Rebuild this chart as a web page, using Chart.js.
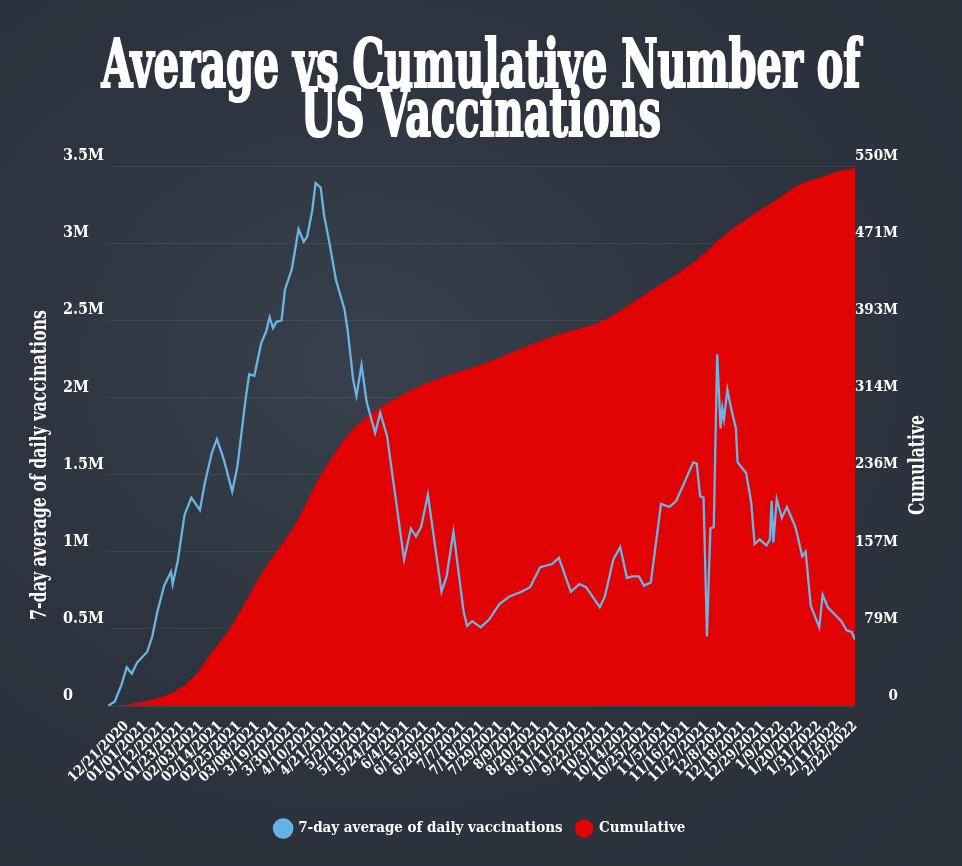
<!DOCTYPE html>
<html>
<head>
<meta charset="utf-8">
<script src="https://cdn.jsdelivr.net/npm/chart.js@4.4.1/dist/chart.umd.min.js"></script>
<style>
  html, body { margin: 0; padding: 0; }
  body { width: 962px; height: 866px; overflow: hidden; background: #2b323d; }
  #wrap {
    position: relative; width: 962px; height: 866px; overflow: hidden;
    background: radial-gradient(ellipse at 38% 42%, #37404c 0%, #2d343f 45%, #29303a 100%);
  }
  #chart { position: absolute; left: 0; top: 0; }
  #title {
    position: absolute; left: -519px; top: 39px; width: 2000px; margin: 0;
    text-align: center; color: #fff; white-space: nowrap;
    font-family: "DejaVu Serif Condensed", "DejaVu Serif", serif;
    font-weight: bold; font-size: 67px; line-height: 49px;
    -webkit-text-stroke: 2.2px #fff;
    transform-origin: 1000px 0;
  }
</style>
</head>
<body>
<div id="wrap">
  <canvas id="chart" width="962" height="866"></canvas>
  <h1 id="title"><span id="t1">Average vs Cumulative Number of</span><br><span>US Vaccinations</span></h1>
</div>
<script>
// tick labels on the date axis (one every 11 days from 12/21/2020)
const tickLabels = ['12/21/2020', '01/01/2021', '01/12/2021', '01/23/2021', '02/03/2021', '02/14/2021',
  '02/25/2021', '03/08/2021', '3/19/2021', '3/30/2021', '4/10/2021', '4/21/2021', '5/2/2021',
  '5/13/2021', '5/24/2021', '6/4/2021', '6/15/2021', '6/26/2021', '7/7/2021', '7/18/2021',
  '7/29/2021', '8/9/2021', '8/20/2021', '8/31/2021', '9/11/2021', '9/22/2021', '10/3/2021',
  '10/14/2021', '10/25/2021', '11/5/2021', '11/16/2021', '11/27/2021', '12/8/2021', '12/18/2021',
  '12/29/2021', '1/9/2022', '1/20/2022', '1/31/2022', '2/11/2022', '2/22/2022'];
const DAYS_PER_TICK = 11;
const FIRST_DAY = -10;
const LAST_DAY = 429;

// 7-day average of daily vaccinations (millions), day = days since 12/21/2020
const avgDays = [-10, -6, -2, 1, 4, 7, 13, 16, 19, 23, 27, 28, 31, 35, 39, 44, 47, 51, 54, 58,
  63, 66, 71, 73, 76, 80, 83, 85, 87, 89, 92, 94, 98, 102, 105, 107, 110, 112, 115, 117,
  120, 124, 129, 131, 134, 136, 139, 142, 147, 150, 154, 160, 164, 168, 171, 174, 178, 186, 189, 193,
  199, 201, 204, 209, 214, 220, 226, 233, 238, 244, 251, 255, 262, 267, 271, 279, 282, 287, 291, 295,
  298, 302, 305, 309, 315, 320, 324, 330, 334, 336, 338, 340, 342, 344, 346, 348, 350, 351, 352, 354,
  356, 359, 360, 365, 368, 370, 373, 377, 379, 380, 381, 383, 386, 389, 394, 398, 400, 403, 408, 410,
  413, 421, 424, 427, 429];
const avgValues = [0, 0.03, 0.14, 0.25, 0.21, 0.28, 0.35, 0.45, 0.61, 0.78, 0.87, 0.79, 0.94, 1.24, 1.35, 1.27, 1.45, 1.64, 1.73, 1.60,
  1.39, 1.55, 2.00, 2.15, 2.14, 2.35, 2.43, 2.52, 2.45, 2.49, 2.50, 2.70, 2.83, 3.09, 3.01, 3.04, 3.21, 3.39, 3.36, 3.18,
  3.01, 2.76, 2.57, 2.42, 2.12, 2.01, 2.21, 1.97, 1.77, 1.90, 1.75, 1.27, 0.95, 1.15, 1.10, 1.16, 1.37, 0.74, 0.84, 1.13,
  0.61, 0.52, 0.55, 0.51, 0.56, 0.66, 0.71, 0.74, 0.77, 0.90, 0.92, 0.96, 0.74, 0.79, 0.77, 0.64, 0.71, 0.95, 1.03, 0.83,
  0.84, 0.84, 0.78, 0.80, 1.31, 1.29, 1.33, 1.48, 1.58, 1.57, 1.36, 1.35, 0.45, 1.15, 1.16, 2.28, 1.80, 1.93, 1.86, 2.05,
  1.94, 1.80, 1.58, 1.51, 1.32, 1.05, 1.08, 1.04, 1.08, 1.33, 1.06, 1.34, 1.22, 1.29, 1.16, 0.97, 1.00, 0.65, 0.51, 0.72,
  0.64, 0.55, 0.49, 0.48, 0.43];

// cumulative vaccinations (millions)
const cumDays = [-6, 3, 15, 27, 34, 42, 49, 62, 81, 101, 113, 120, 130, 139, 150, 163, 179, 208, 254, 279,
  308, 326, 337, 349, 360, 373, 384, 395, 408, 420, 429];
const cumValues = [0, 2, 6, 13, 20, 33, 50, 80, 137, 188, 229, 249, 274, 290, 304, 317, 330, 347, 378, 391,
  422, 442, 456, 475, 490, 505, 517, 530, 538, 545, 548];

const FONT = '"DejaVu Serif Condensed", "DejaVu Serif", serif';
Chart.defaults.font.family = FONT;
Chart.defaults.color = '#ffffff';

// rotated axis titles, squeezed to the narrow headline face of the original
function drawVerticalText(ctx, text, x, y, length) {
  ctx.save();
  ctx.font = 'bold 23px ' + FONT;
  const w = ctx.measureText(text).width;
  ctx.translate(x, y);
  ctx.rotate(-Math.PI / 2);
  ctx.scale(length / w, 1);
  ctx.fillStyle = '#ffffff';
  ctx.textAlign = 'center';
  ctx.textBaseline = 'middle';
  ctx.fillText(text, 0, 0);
  ctx.restore();
}
const axisTitles = {
  id: 'axisTitles',
  afterDraw(chart) {
    drawVerticalText(chart.ctx, '7-day average of daily vaccinations', 40, 465, 310);
    drawVerticalText(chart.ctx, 'Cumulative', 918, 465, 100);
  }
};

const ctx = document.getElementById('chart').getContext('2d');
const chart = new Chart(ctx, {
  type: 'line',
  data: {
    datasets: [{
      label: '7-day average of daily vaccinations',
      data: avgDays.map((d, i) => ({ x: d, y: avgValues[i] })),
      yAxisID: 'y',
      borderColor: '#6cb4e4',
      backgroundColor: '#5fb3e6',
      borderWidth: 2.3,
      pointRadius: 0,
      tension: 0,
      order: 0
    }, {
      label: 'Cumulative',
      data: cumDays.map((d, i) => ({ x: d, y: cumValues[i] })),
      yAxisID: 'y1',
      borderColor: '#e10303',
      backgroundColor: '#e10303',
      borderWidth: 0,
      pointRadius: 0,
      fill: 'origin',
      cubicInterpolationMode: 'monotone',
      order: 1
    }]
  },
  options: {
    responsive: false,
    animation: false,
    layout: { padding: { top: 166, left: 63, right: 64, bottom: 20 } },
    scales: {
      x: {
        type: 'linear',
        bounds: 'data',
        min: FIRST_DAY,
        max: LAST_DAY,
        grid: { display: false },
        border: { display: false },
        ticks: {
          stepSize: DAYS_PER_TICK,
          includeBounds: false,
          maxTicksLimit: 100,
          autoSkip: false,
          minRotation: 45,
          maxRotation: 45,
          padding: 4,
          color: '#ffffff',
          font: { size: 14, weight: 'bold' },
          callback: (v) => (v >= 0 ? tickLabels[Math.round(v / DAYS_PER_TICK)] || '' : '')
        },
        afterFit: (scale) => { scale.height = 101; }
      },
      y: {
        position: 'left',
        min: 0,
        max: 3.5,
        grid: { color: 'rgba(255,255,255,0.07)', drawTicks: false },
        border: { display: false },
        ticks: {
          stepSize: 0.5,
          crossAlign: 'far',
          labelOffset: -10,
          padding: 0,
          color: '#ffffff',
          font: { size: 16, weight: 'bold' },
          callback: (v) => (v === 0 ? '0' : v + 'M')
        },
        afterFit: (scale) => { scale.width = 45; }
      },
      y1: {
        position: 'right',
        min: 0,
        max: 550,
        z: 1,
        grid: { display: false },
        border: { display: false },
        ticks: {
          count: 8,
          crossAlign: 'far',
          labelOffset: -10,
          padding: 0,
          color: '#ffffff',
          font: { size: 15, weight: 'bold' },
          callback: (v) => (v === 0 ? '0' : Math.round(v) + 'M')
        },
        afterFit: (scale) => { scale.width = 43; }
      }
    },
    plugins: {
      legend: {
        position: 'bottom',
        labels: {
          usePointStyle: true,
          pointStyle: 'circle',
          boxWidth: 19,
          boxHeight: 13,
          padding: 14,
          color: '#ffffff',
          font: { size: 15, weight: 'bold' }
        }
      },
      tooltip: { enabled: false }
    }
  },
  plugins: [axisTitles]
});

// squeeze the headline to the width of the original
const title = document.getElementById('title');
const sx = 759 / document.getElementById('t1').getBoundingClientRect().width;
title.style.transform = 'scaleX(' + sx + ')';
</script>
</body>
</html>
